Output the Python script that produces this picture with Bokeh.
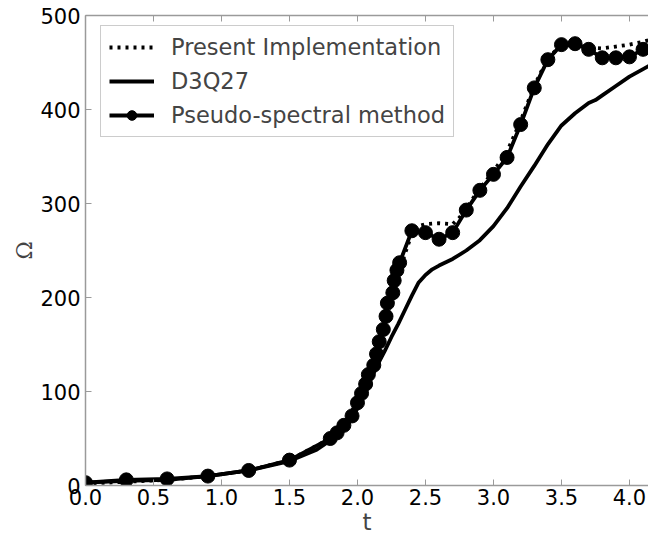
from bokeh.plotting import figure
from bokeh.models import (Range1d, FixedTicker, LinearAxis, Legend, LegendItem,
                          NumeralTickFormatter)
from bokeh.embed import file_html
from bokeh.resources import INLINE

# ---- data ----
t_present = [0.0, 0.3, 0.6, 0.9, 1.2, 1.5, 1.8, 1.9, 2.0, 2.1, 2.2, 2.25, 2.3, 2.35,
             2.4, 2.45, 2.5, 2.6, 2.7, 2.75, 2.8, 2.9, 3.0, 3.1, 3.2, 3.3, 3.4, 3.5,
             3.6, 3.7, 3.8, 3.9, 4.0, 4.1, 4.15]
omega_present = [2, 4, 6, 10, 16, 27, 50, 64, 90, 124, 170, 200, 225, 247,
                 268, 276, 278, 279, 278, 285, 295, 316, 334, 355, 388, 425, 455, 468,
                 469, 466, 465, 467, 469, 472, 474]

t_d3q27 = [0.0, 0.3, 0.6, 0.9, 1.2, 1.5, 1.7, 1.8, 1.9, 1.95, 2.0, 2.05, 2.1, 2.15,
           2.2, 2.25, 2.3, 2.35, 2.4, 2.45, 2.5, 2.55, 2.6, 2.7, 2.8, 2.9, 3.0, 3.1,
           3.2, 3.3, 3.4, 3.5, 3.6, 3.7, 3.75, 3.8, 3.9, 4.0, 4.1, 4.15]
omega_d3q27 = [3, 5, 6, 10, 16, 26, 38, 48, 61, 70, 82, 98, 114, 129,
               143, 158, 172, 187, 202, 216, 224, 230, 234, 241, 250, 261, 276, 295,
               318, 340, 363, 383, 396, 407, 410, 415, 425, 435, 443, 447]

t_spectral = [0.0, 0.3, 0.6, 0.9, 1.2, 1.5, 1.8, 1.85, 1.9, 1.96, 2.0, 2.03, 2.06, 2.08,
              2.12, 2.14, 2.16, 2.19, 2.21, 2.22, 2.26, 2.27, 2.29, 2.31, 2.4, 2.5,
              2.6, 2.7, 2.8, 2.9, 3.0, 3.1, 3.2, 3.3, 3.4, 3.5, 3.6, 3.7, 3.8, 3.9,
              4.0, 4.1]
omega_spectral = [3, 6, 7, 10, 16, 27, 50, 56, 64, 74, 88, 98, 108, 118,
                  128, 140, 153, 166, 180, 194, 205, 218, 229, 237, 271, 269,
                  262, 269, 293, 314, 331, 349, 384, 423, 453, 469, 470, 464, 455, 455,
                  456, 464]

x_ticks = [0.0, 0.5, 1.0, 1.5, 2.0, 2.5, 3.0, 3.5, 4.0]
y_ticks = [0, 100, 200, 300, 400, 500]

FONT = "DejaVu Sans"
GREY = "#9a9a9a"

p = figure(frame_width=563, frame_height=470,
           x_range=Range1d(0, 4.14), y_range=Range1d(0, 500),
           output_backend="svg", toolbar_location=None,
           min_border_left=85, min_border_top=15, min_border_right=0,
           min_border_bottom=0, x_axis_label="t", y_axis_label="Ω")
p.outline_line_color = None
p.grid.visible = False
p.background_fill_color = "white"
p.border_fill_color = "white"

def style_axis(ax, ticks, labels=True):
    ax.ticker = FixedTicker(ticks=ticks)
    ax.axis_line_color = GREY
    ax.axis_line_width = 1.5
    ax.major_tick_line_color = GREY
    ax.major_tick_in = 6
    ax.major_tick_out = 0
    ax.minor_tick_line_color = None
    ax.major_label_text_font = FONT
    ax.major_label_text_color = "black"
    ax.major_label_text_font_size = "21px"
    ax.major_label_standoff = 3
    if not labels:
        ax.major_label_overrides = {t: "" for t in ticks}
        ax.major_label_standoff = 0

style_axis(p.xaxis[0], x_ticks)
p.xaxis[0].formatter = NumeralTickFormatter(format="0.0")
style_axis(p.yaxis[0], y_ticks)
p.yaxis[0].major_label_standoff = 5
p.xaxis[0].axis_label_text_font = FONT
p.xaxis[0].axis_label_text_font_size = "23px"
p.xaxis[0].axis_label_text_font_style = "normal"
p.xaxis[0].axis_label_standoff = 1
p.yaxis[0].axis_label_text_font = "DejaVu Serif"
p.yaxis[0].axis_label_text_font_size = "22px"
p.yaxis[0].axis_label_text_font_style = "normal"
p.yaxis[0].axis_label_standoff = 0

top = LinearAxis()
style_axis(top, x_ticks, labels=False)
p.add_layout(top, "above")

r_d3 = p.line(t_d3q27, omega_d3q27, line_color="black", line_width=3.8)
r_pr = p.line(t_present, omega_present, line_color="black", line_width=3.8,
              line_dash="3 5")
r_sl = p.line(t_spectral, omega_spectral, line_color="black", line_width=3.8)
r_sm = p.scatter(t_spectral, omega_spectral, size=14, fill_color="black",
                 line_color="black")

legend = Legend(items=[
    LegendItem(label="Present Implementation", renderers=[r_pr]),
    LegendItem(label="D3Q27", renderers=[r_d3]),
    LegendItem(label="Pseudo-spectral method", renderers=[r_sl, r_sm]),
], location=(15, 348))
legend.margin = 0
legend.padding = 8
legend.spacing = 8
legend.glyph_width = 45
legend.glyph_height = 24
legend.label_height = 24
legend.label_standoff = 17
legend.label_text_font = FONT
legend.label_text_font_size = "22.5px"
legend.border_line_color = GREY
legend.border_line_width = 1.5
legend.background_fill_alpha = 1.0
p.add_layout(legend, "center")

open("out.html", "w").write(file_html(p, INLINE))
